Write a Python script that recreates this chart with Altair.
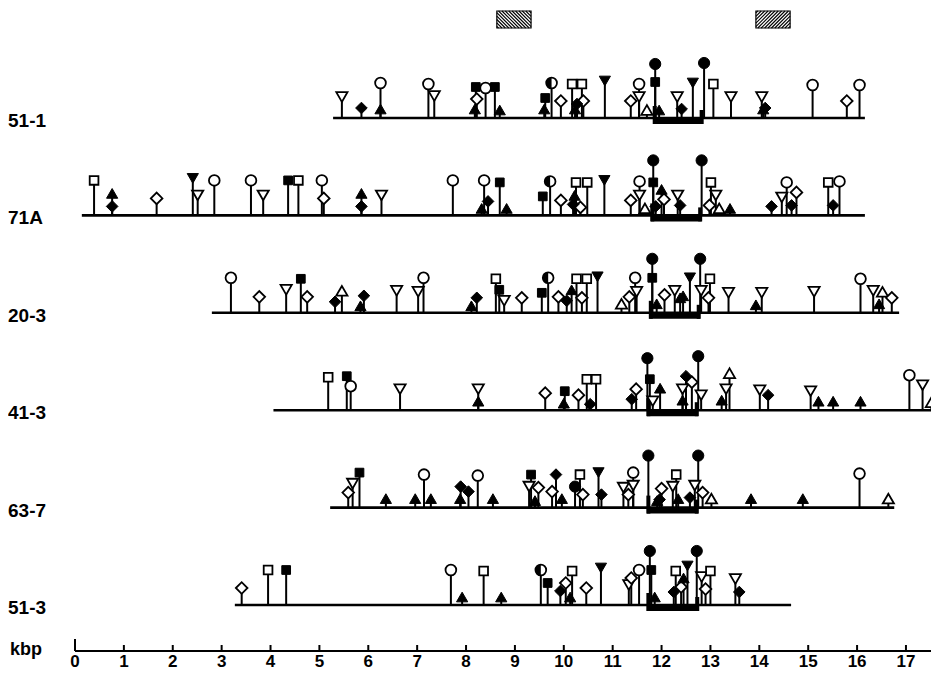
import altair as alt
import pandas as pd

# ---------------- data ----------------
ROWS = ["51-1", "71A", "20-3", "41-3", "63-7", "51-3"]
SPAN_START = [5.28, 0.14, 2.80, 4.06, 5.22, 3.27]
SPAN_END = [16.16, 16.16, 16.86, 17.60, 16.76, 14.65]
BRACKET_START = [11.83, 11.78, 11.75, 11.70, 11.70, 11.70]
BRACKET_END = [12.85, 12.82, 12.79, 12.75, 12.75, 12.76]

# (position kbp, site type, stem height)
SITES_51_1 = [
    (5.46, "otd", 21), (5.86, "fd", 10), (6.25, "oc", 35), (6.25, "ftu", 9),
    (7.23, "oc", 34), (7.35, "otd", 22),
    (8.20, "fs", 31), (8.22, "od", 19), (8.18, "ftu", 9), (8.40, "oc", 30),
    (8.59, "fs", 31), (8.69, "ftu", 8),
    (9.62, "fs", 20), (9.60, "ftu", 9), (9.75, "hc", 35), (9.94, "od", 17),
    (10.17, "os", 34), (10.37, "os", 34), (10.40, "od", 17), (10.23, "ftu", 9), (10.27, "fd", 14),
    (10.84, "ftd", 37),
    (11.37, "od", 17), (11.54, "oc", 34), (11.54, "otd", 21), (11.70, "otu", 8),
    (11.87, "fc", 54), (11.87, "fs", 36), (11.95, "ftu", 8),
    (12.32, "otd", 21), (12.41, "fd", 9), (12.64, "ftd", 35), (12.87, "fc", 55),
    (13.06, "os", 34), (13.42, "otd", 21),
    (14.05, "otd", 21), (14.08, "ftu", 9), (14.12, "fd", 10),
    (15.09, "oc", 33), (15.79, "od", 17), (16.05, "oc", 33),
]
SITES_71A = [
    (0.39, "os", 35), (0.76, "ftu", 22), (0.76, "fd", 9), (1.67, "od", 17),
    (2.41, "ftd", 37), (2.51, "otd", 20), (2.85, "oc", 35), (3.60, "oc", 35),
    (3.85, "otd", 20), (4.36, "fs", 35), (4.57, "os", 35), (5.05, "oc", 35),
    (5.09, "od", 17), (5.86, "ftu", 22), (5.86, "fd", 9), (6.27, "otd", 20),
    (7.73, "oc", 35), (8.37, "oc", 35), (8.45, "fd", 14), (8.32, "ftu", 7),
    (8.69, "fs", 33), (8.83, "ftu", 7), (9.57, "fs", 19), (9.72, "hc", 34),
    (9.94, "od", 15), (10.19, "fd", 11), (10.22, "ftu", 20), (10.25, "os", 33),
    (10.34, "od", 8), (10.48, "os", 33), (10.83, "ftd", 35),
    (11.37, "od", 15), (11.55, "oc", 34), (11.55, "otd", 20), (11.66, "otu", 7),
    (11.83, "fc", 55), (11.83, "fs", 33), (11.88, "fd", 9), (12.00, "ftu", 26),
    (12.05, "od", 16), (12.33, "otd", 20), (12.38, "fd", 10), (12.82, "fc", 55),
    (12.98, "od", 10), (13.01, "os", 33), (13.11, "otd", 20), (13.18, "otu", 7),
    (13.40, "ftu", 7), (14.25, "fd", 9), (14.46, "otd", 18), (14.56, "oc", 33),
    (14.66, "fd", 10), (14.76, "od", 23), (15.41, "os", 33), (15.51, "fd", 10),
    (15.64, "oc", 34),
]
SITES_20_3 = [
    (3.19, "oc", 35), (3.77, "od", 16), (4.32, "otd", 23), (4.62, "fs", 34),
    (4.75, "od", 16), (5.32, "fd", 11), (5.46, "otu", 22), (5.84, "ftu", 7),
    (5.91, "fd", 17), (6.58, "otd", 22), (7.02, "otd", 21), (7.13, "oc", 35),
    (8.11, "ftu", 7), (8.22, "fd", 15), (8.61, "os", 34), (8.68, "fs", 23),
    (8.78, "otd", 12), (9.14, "od", 15), (9.55, "fs", 20), (9.68, "hc", 35),
    (9.89, "od", 16), (10.06, "fd", 12), (10.16, "ftu", 23), (10.26, "os", 34),
    (10.37, "od", 15), (10.47, "os", 34), (10.69, "ftd", 36),
    (11.18, "otu", 9), (11.34, "od", 16), (11.46, "oc", 35), (11.49, "otd", 21),
    (11.81, "fc", 54), (11.81, "fs", 35), (11.90, "ftu", 9), (12.06, "od", 18),
    (12.27, "otd", 22), (12.38, "ftu", 15), (12.44, "ftu", 17), (12.58, "ftd", 35),
    (12.79, "fc", 54), (12.81, "otd", 22), (12.96, "od", 15), (12.99, "os", 34),
    (13.37, "otd", 20), (13.93, "ftu", 8), (14.05, "otd", 20), (15.12, "otd", 21),
    (16.07, "oc", 34), (16.33, "otd", 22), (16.45, "ftu", 9), (16.52, "otu", 21),
    (16.71, "od", 15),
]
SITES_41_3 = [
    (5.18, "os", 33), (5.56, "fs", 34), (5.64, "oc", 24), (6.65, "otd", 21),
    (8.25, "otd", 21), (8.25, "ftu", 9), (9.62, "od", 17), (10.02, "fs", 19),
    (10.00, "ftu", 7), (10.30, "od", 15), (10.47, "os", 31), (10.54, "fd", 6),
    (10.66, "os", 31), (11.39, "fd", 11), (11.48, "od", 21),
    (11.71, "fc", 52), (11.76, "fs", 31), (11.82, "otd", 9), (11.97, "ftu", 22),
    (12.43, "otd", 21), (12.43, "ftu", 10), (12.50, "fd", 34), (12.62, "od", 28),
    (12.75, "fc", 54), (12.81, "otd", 15), (13.23, "ftu", 10), (13.32, "otd", 21),
    (13.39, "otu", 37), (14.01, "otd", 20), (14.18, "fd", 15), (15.05, "otd", 19),
    (15.21, "ftu", 9), (15.51, "ftu", 9), (16.07, "ftu", 9), (17.07, "oc", 35),
    (17.34, "otd", 25), (17.52, "otu", 8),
]
SITES_63_7 = [
    (5.59, "od", 15), (5.68, "otd", 24), (5.82, "fs", 35), (6.36, "ftu", 9),
    (6.96, "ftu", 9), (7.14, "oc", 33), (7.28, "ftu", 9), (7.88, "ftu", 9),
    (7.89, "fd", 21), (8.05, "fd", 16), (8.24, "oc", 32), (8.55, "ftu", 9),
    (9.29, "otd", 21), (9.33, "fs", 33), (9.41, "ftu", 7), (9.48, "od", 20),
    (9.76, "od", 16), (9.84, "fd", 33), (9.96, "ftu", 9), (10.23, "fc", 21),
    (10.33, "os", 33), (10.39, "od", 13), (10.71, "ftd", 35), (10.77, "fd", 13),
    (11.22, "otd", 20), (11.32, "od", 13), (11.42, "oc", 35), (11.42, "otd", 22),
    (11.73, "fc", 52), (11.91, "ftu", 7), (11.96, "fd", 8), (12.00, "od", 19),
    (12.23, "otd", 21), (12.30, "os", 33), (12.34, "ftu", 9), (12.58, "fd", 10),
    (12.68, "otd", 22), (12.75, "fc", 52), (12.84, "od", 15), (13.02, "otu", 9),
    (13.83, "ftu", 9), (14.89, "ftu", 9), (16.05, "oc", 34), (16.64, "otu", 9),
]
SITES_51_3 = [
    (3.41, "od", 17), (3.95, "os", 35), (4.32, "fs", 35), (7.69, "oc", 35),
    (7.92, "ftu", 8), (8.36, "os", 34), (8.72, "ftu", 8), (9.53, "hc", 35),
    (9.67, "fs", 22), (9.93, "fd", 14), (10.04, "od", 22), (10.13, "ftu", 8),
    (10.17, "os", 34), (10.46, "od", 17), (10.76, "ftd", 37),
    (11.33, "otd", 20), (11.38, "od", 27), (11.54, "oc", 35),
    (11.76, "fc", 54), (11.79, "fs", 35), (11.86, "ftu", 8),
    (12.25, "fd", 13), (12.29, "os", 34), (12.40, "od", 18), (12.45, "ftu", 27),
    (12.53, "ftd", 39), (12.72, "fc", 54), (12.82, "otd", 28), (12.90, "od", 16),
    (13.00, "os", 34), (13.51, "otd", 26), (13.59, "fd", 13),
]
SITES = [SITES_51_1, SITES_71A, SITES_20_3, SITES_41_3, SITES_63_7, SITES_51_3]

TICKS = list(range(18))
HATCH_START = [8.63, 13.93]
HATCH_END = [9.33, 14.63]
HATCH_DIR = ["back", "fwd"]

# ---------------- layout / style ----------------
W, H = 923, 664
PX = 48.88                      # pixels per kbp
XMIN = -(75 - 8) / PX
XMAX = XMIN + W / PX
ROW_TOP, ROW_STEP = 110, 97.4
AXIS_Y = 643
FONT = "Liberation Sans"

STYLE = {
    "oc": ("circle", False, 115), "fc": ("circle", True, 125), "hc": ("circle", False, 115),
    "os": ("square", False, 76), "fs": ("square", True, 76),
    "od": ("diamond", False, 135), "fd": ("diamond", True, 135),
    "otu": ("triangle-up", False, 125), "ftu": ("triangle-up", True, 125),
    "otd": ("triangle-down", False, 125), "ftd": ("triangle-down", True, 125),
}


def base_y(i):
    return ROW_TOP + ROW_STEP * i


spans, stems, pts, halves, labels, brk, brk_sides = [], [], [], [], [], [], []
for i, name in enumerate(ROWS):
    b = base_y(i)
    spans.append(dict(x=SPAN_START[i], x2=SPAN_END[i], y=b))
    labels.append(dict(x=XMIN + 0.0, y=b + 3, t=name))
    brk.append(dict(x=BRACKET_START[i], x2=BRACKET_END[i], y=b, y2=b + 6))
    brk_sides.append(dict(x=BRACKET_START[i] + 0.03, y=b + 6, y2=b - 12))
    brk_sides.append(dict(x=BRACKET_END[i] - 0.03, y=b + 6, y2=b - 8))
    for pos, code, h in SITES[i]:
        shape, filled, size = STYLE[code]
        stems.append(dict(x=pos, y=b, y2=b - h))
        pts.append(dict(x=pos, y=b - h, shape=shape, filled=filled, size=size))
        if code == "hc":
            halves.append(dict(x=pos, y=b - h, size=size))

# hatch boxes (top)
box_rows, hatch_rows = [], []
BY0, BY1 = 3, 20
for s, e, d in zip(HATCH_START, HATCH_END, HATCH_DIR):
    box_rows.append(dict(x=s, x2=e, y=BY0, y2=BY1))
    w = (e - s) * PX
    h = BY1 - BY0
    step = 3.4
    c = -h + step / 2
    while c < w:
        t0, t1 = max(0.0, -c), min(h, w - c)
        if t1 > t0:
            u0, u1 = t0 + c, t1 + c
            if d == "fwd":
                u0, u1 = w - u0, w - u1
            hatch_rows.append(dict(x=s + u0 / PX, x2=s + u1 / PX, y=BY0 + t0, y2=BY0 + t1))
        c += step

xs = alt.Scale(domain=[XMIN, XMAX], nice=False, zero=False)
ys = alt.Scale(domain=[0, H], reverse=True, nice=False, zero=False)
X = alt.X("x:Q", scale=xs, axis=None)
Y = alt.Y("y:Q", scale=ys, axis=None)

df_pts = pd.DataFrame(pts)
open_pts = df_pts[~df_pts.filled]
fill_pts = df_pts[df_pts.filled]

layers = []
layers.append(alt.Chart(pd.DataFrame(spans)).mark_rule(color="black", strokeWidth=2.6).encode(
    x=X, x2="x2:Q", y=Y))
layers.append(alt.Chart(pd.DataFrame(brk)).mark_rect(color="black").encode(
    x=X, x2="x2:Q", y=Y, y2="y2:Q"))
layers.append(alt.Chart(pd.DataFrame(brk_sides)).mark_rule(color="black", strokeWidth=4).encode(
    x=X, y=Y, y2="y2:Q"))
layers.append(alt.Chart(pd.DataFrame(stems)).mark_rule(color="black", strokeWidth=2).encode(
    x=X, y=Y, y2="y2:Q"))
layers.append(alt.Chart(open_pts).mark_point(filled=True, fill="white", stroke="black",
                                              strokeWidth=1.8, opacity=1).encode(
    x=X, y=Y, shape=alt.Shape("shape:N", scale=None), size=alt.Size("size:Q", scale=None)))
layers.append(alt.Chart(fill_pts).mark_point(filled=True, fill="black", stroke="black",
                                              strokeWidth=1, opacity=1).encode(
    x=X, y=Y, shape=alt.Shape("shape:N", scale=None), size=alt.Size("size:Q", scale=None)))
if halves:
    layers.append(alt.Chart(pd.DataFrame(halves)).mark_point(
        filled=True, fill="black", opacity=1, shape="M0,-1A1,1,0,0,0,0,1Z").encode(
        x=X, y=Y, size=alt.Size("size:Q", scale=None)))
layers.append(alt.Chart(pd.DataFrame(labels)).mark_text(
    align="left", baseline="middle", font=FONT, fontSize=19, fontWeight="bold", color="black").encode(
    x=X, y=Y, text="t:N"))

# axis
axis_line = pd.DataFrame([dict(x=0, x2=XMAX, y=AXIS_Y)])
layers.append(alt.Chart(axis_line).mark_rule(color="black", strokeWidth=2).encode(x=X, x2="x2:Q", y=Y))
tick_df = pd.DataFrame([dict(x=t, y=AXIS_Y, y2=AXIS_Y - (12 if t == 0 else 6), t=str(t)) for t in TICKS])
layers.append(alt.Chart(tick_df).mark_rule(color="black", strokeWidth=2).encode(x=X, y=Y, y2="y2:Q"))
tick_lab = tick_df.assign(y=H - 1)
layers.append(alt.Chart(tick_lab).mark_text(
    align="center", baseline="bottom", font=FONT, fontSize=17, fontWeight="bold", color="black").encode(
    x=X, y=Y, text="t:N"))
layers.append(alt.Chart(pd.DataFrame([dict(x=XMIN + 0.04, y=AXIS_Y - 1, t="kbp")])).mark_text(
    align="left", baseline="middle", font=FONT, fontSize=18, fontWeight="bold", color="black").encode(
    x=X, y=Y, text="t:N"))

# hatch boxes
layers.append(alt.Chart(pd.DataFrame(box_rows)).mark_rect(fill="white", stroke="black", strokeWidth=1.2).encode(
    x=X, x2="x2:Q", y=Y, y2="y2:Q"))
layers.append(alt.Chart(pd.DataFrame(hatch_rows)).mark_rule(color="black", strokeWidth=1.1).encode(
    x=X, x2="x2:Q", y=Y, y2="y2:Q"))

chart = alt.layer(*layers).properties(
    width=W, height=H, padding=0, autosize=alt.AutoSizeParams(type="none")
).configure_view(stroke=None)

chart.save("out.html", embed_options={"renderer": "svg", "actions": False})
